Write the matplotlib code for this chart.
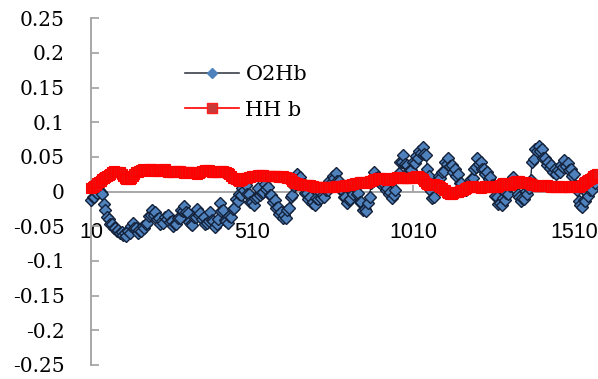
import numpy as np
import matplotlib
matplotlib.use("Agg")
import matplotlib.pyplot as plt
from matplotlib.lines import Line2D

# Sample index (every 5 samples) and the two haemoglobin signals
sample_idx = np.arange(10, 1590, 5)

o2hb = [
    -0.012, -0.008, -0.007, -0.001, -0.002, 0.003, 0.000, -0.004, -0.018, -0.026,
    -0.036, -0.039, -0.047, -0.046, -0.052, -0.052, -0.057, -0.055, -0.060, -0.058,
    -0.062, -0.060, -0.064, -0.057, -0.060, -0.049, -0.045, -0.052, -0.053, -0.060,
    -0.056, -0.057, -0.050, -0.052, -0.046, -0.045, -0.035, -0.034, -0.027, -0.033,
    -0.030, -0.039, -0.038, -0.046, -0.043, -0.045, -0.037, -0.039, -0.033, -0.044,
    -0.043, -0.050, -0.046, -0.047, -0.038, -0.038, -0.027, -0.028, -0.020, -0.030,
    -0.031, -0.044, -0.046, -0.048, -0.037, -0.036, -0.025, -0.033, -0.031, -0.040,
    -0.037, -0.047, -0.045, -0.043, -0.029, -0.041, -0.042, -0.051, -0.047, -0.039,
    -0.017, -0.028, -0.027, -0.041, -0.042, -0.045, -0.035, -0.036, -0.025, -0.024,
    -0.011, -0.013, -0.003, -0.005, 0.005, 0.002, 0.009, -0.003, -0.003, -0.015,
    -0.015, -0.019, -0.009, -0.008, 0.005, -0.005, -0.002, -0.001, 0.011, 0.004,
    0.007, -0.005, -0.005, -0.015, -0.012, -0.023, -0.022, -0.032, -0.029, -0.038,
    -0.034, -0.038, -0.027, -0.023, -0.007, -0.005, 0.008, 0.011, 0.025, 0.018,
    0.021, 0.010, 0.011, -0.002, -0.002, -0.011, -0.007, -0.017, -0.015, -0.019,
    -0.009, -0.011, -0.001, -0.009, -0.005, -0.007, 0.003, 0.003, 0.015, 0.013,
    0.023, 0.019, 0.027, 0.015, 0.015, 0.003, 0.003, -0.008, -0.007, -0.016,
    -0.012, -0.011, 0.001, -0.003, 0.005, -0.004, -0.002, -0.015, -0.015, -0.026,
    -0.025, -0.028, -0.017, -0.008, 0.013, 0.016, 0.029, 0.019, 0.021, 0.014,
    0.018, 0.009, 0.011, 0.002, 0.005, -0.004, -0.001, -0.009, -0.005, 0.003,
    0.023, 0.027, 0.043, 0.043, 0.053, 0.040, 0.038, 0.028, 0.031, 0.031,
    0.043, 0.041, 0.051, 0.049, 0.058, 0.056, 0.064, 0.054, 0.053, 0.033,
    0.023, 0.001, -0.009, -0.007, 0.008, 0.010, 0.023, 0.020, 0.028, 0.030,
    0.043, 0.040, 0.048, 0.037, 0.038, 0.029, 0.033, 0.023, 0.025, 0.013,
    0.013, 0.002, 0.005, 0.002, 0.011, 0.009, 0.018, 0.019, 0.033, 0.035,
    0.048, 0.040, 0.043, 0.032, 0.033, 0.025, 0.028, 0.018, 0.021, 0.009,
    0.008, -0.006, -0.007, -0.018, -0.017, -0.019, -0.009, -0.012, -0.002, -0.003,
    0.008, 0.009, 0.021, 0.011, 0.013, -0.003, -0.007, -0.014, -0.009, -0.010,
    0.001, -0.003, 0.005, 0.017, 0.043, 0.047, 0.061, 0.059, 0.066, 0.058,
    0.061, 0.049, 0.048, 0.039, 0.043, 0.034, 0.038, 0.029, 0.033, 0.026,
    0.031, 0.028, 0.038, 0.036, 0.045, 0.037, 0.041, 0.031, 0.033, 0.023,
    0.025, 0.008, 0.003, -0.014, -0.019, -0.022, -0.012, -0.013, -0.002, -0.006,
    0.003, 0.003, 0.015, 0.013, 0.023, 0.021,
]

hhb = [
    0.005, 0.006, 0.008, 0.010, 0.012, 0.014, 0.015, 0.018, 0.020, 0.021,
    0.022, 0.024, 0.026, 0.028, 0.030, 0.029, 0.028, 0.028, 0.028, 0.025,
    0.022, 0.020, 0.018, 0.018, 0.018, 0.020, 0.022, 0.025, 0.028, 0.029,
    0.030, 0.031, 0.032, 0.031, 0.030, 0.031, 0.032, 0.032, 0.032, 0.031,
    0.030, 0.030, 0.030, 0.031, 0.031, 0.032, 0.032, 0.030, 0.029, 0.028,
    0.028, 0.029, 0.030, 0.030, 0.030, 0.030, 0.029, 0.028, 0.027, 0.027,
    0.028, 0.029, 0.029, 0.028, 0.027, 0.027, 0.026, 0.027, 0.029, 0.030,
    0.030, 0.031, 0.031, 0.031, 0.030, 0.029, 0.028, 0.028, 0.028, 0.029,
    0.030, 0.030, 0.030, 0.029, 0.028, 0.027, 0.026, 0.023, 0.020, 0.019,
    0.018, 0.017, 0.016, 0.017, 0.018, 0.019, 0.020, 0.020, 0.021, 0.021,
    0.022, 0.022, 0.023, 0.023, 0.024, 0.024, 0.024, 0.024, 0.023, 0.023,
    0.022, 0.022, 0.022, 0.022, 0.022, 0.022, 0.022, 0.021, 0.021, 0.022,
    0.021, 0.021, 0.020, 0.019, 0.018, 0.016, 0.014, 0.013, 0.012, 0.011,
    0.011, 0.010, 0.010, 0.010, 0.010, 0.009, 0.009, 0.008, 0.008, 0.007,
    0.007, 0.006, 0.006, 0.006, 0.006, 0.007, 0.007, 0.006, 0.006, 0.006,
    0.007, 0.007, 0.008, 0.008, 0.008, 0.008, 0.008, 0.008, 0.009, 0.009,
    0.010, 0.010, 0.011, 0.011, 0.012, 0.013, 0.013, 0.014, 0.014, 0.014,
    0.013, 0.013, 0.014, 0.015, 0.016, 0.017, 0.018, 0.018, 0.019, 0.019,
    0.019, 0.019, 0.018, 0.018, 0.017, 0.017, 0.018, 0.019, 0.020, 0.020,
    0.021, 0.021, 0.020, 0.020, 0.019, 0.019, 0.020, 0.020, 0.020, 0.020,
    0.021, 0.021, 0.022, 0.022, 0.021, 0.020, 0.018, 0.015, 0.012, 0.011,
    0.010, 0.010, 0.011, 0.011, 0.010, 0.009, 0.008, 0.007, 0.005, 0.003,
    0.002, 0.000, -0.002, -0.003, -0.003, -0.002, -0.001, 0.000, 0.000, 0.001,
    0.002, 0.003, 0.004, 0.005, 0.006, 0.007, 0.008, 0.008, 0.007, 0.007,
    0.006, 0.006, 0.005, 0.006, 0.007, 0.008, 0.008, 0.007, 0.006, 0.006,
    0.006, 0.006, 0.007, 0.008, 0.010, 0.011, 0.012, 0.012, 0.011, 0.011,
    0.010, 0.011, 0.012, 0.014, 0.016, 0.016, 0.015, 0.014, 0.013, 0.013,
    0.014, 0.013, 0.012, 0.011, 0.010, 0.010, 0.009, 0.008, 0.008, 0.008,
    0.008, 0.008, 0.009, 0.009, 0.008, 0.008, 0.007, 0.007, 0.006, 0.007,
    0.008, 0.008, 0.007, 0.007, 0.006, 0.006, 0.007, 0.007, 0.008, 0.008,
    0.008, 0.007, 0.006, 0.007, 0.008, 0.010, 0.012, 0.014, 0.016, 0.017,
    0.018, 0.020, 0.022, 0.024, 0.025, 0.026,
]

y_ticks = [0.25, 0.2, 0.15, 0.1, 0.05, 0, -0.05, -0.1, -0.15, -0.2, -0.25]
y_tick_labels = ["0.25", "0.2", "0.15", "0.1", "0.05", "0",
                 "-0.05", "-0.1", "-0.15", "-0.2", "-0.25"]
x_ticks = [10, 510, 1010, 1510]
x_tick_labels = ["10", "510", "1010", "1510"]
series_names = ["O2Hb", "HH b"]

W, H = 598, 379
fig = plt.figure(figsize=(W / 100, H / 100), dpi=100)
left_px, top_px, bottom_px = 91, 18.3, 365.0
ax = fig.add_axes([left_px / W, (H - bottom_px) / H,
                   (W - left_px) / W, (bottom_px - top_px) / H])

px_per_unit = 0.322
ax.set_xlim(10, 10 + (W - left_px) / px_per_unit)
ax.set_ylim(-0.25, 0.25)

axis_grey = "#a0a0a0"
for side in ("top", "right"):
    ax.spines[side].set_visible(False)
ax.spines["left"].set_color(axis_grey)
ax.spines["left"].set_linewidth(1.3)
ax.spines["bottom"].set_position(("data", 0))
ax.spines["bottom"].set_color(axis_grey)
ax.spines["bottom"].set_linewidth(1.3)

blue_face, blue_edge, blue_line = "#4f81bd", "#13213a", "#1d2b45"
red_face, red_edge = "#ee1010", "#ff0000"

ax.plot(sample_idx, o2hb, color=blue_line, lw=1.0, marker="D", ms=5.8,
        mfc=blue_face, mec=blue_edge, mew=1.0, clip_on=False, zorder=3)
ax.plot(sample_idx, hhb, color="#ff0000", lw=1.0, marker="s", ms=7.0,
        mfc=red_face, mec=red_edge, mew=0.8, clip_on=False, zorder=4)

ax.set_yticks(y_ticks)
ax.set_yticklabels(y_tick_labels, fontfamily="DejaVu Serif", fontsize=14.5)
ax.tick_params(axis="y", direction="in", length=6, width=1.2,
               color=axis_grey, pad=19)

# Category labels hang well below the zero line
ax.set_xticks(x_ticks)
ax.set_xticklabels(x_tick_labels, fontfamily="Liberation Sans", fontsize=15.5)
ax.tick_params(axis="x", direction="in", length=5, width=1.2,
               color=axis_grey, pad=22)
for lab in ax.get_xticklabels():
    lab.set_zorder(6)

handles = [
    Line2D([], [], color="#3a3f4a", lw=1.2, marker="D", ms=5.5,
           mfc=blue_face, mec=blue_face),
    Line2D([], [], color="#ff0000", lw=1.2, marker="s", ms=6.5,
           mfc="#c83a3a", mec="#ff2020", mew=1.0),
]
ax.legend(handles, series_names, loc="upper left",
          bbox_to_anchor=(185 / W, (H - 65.5) / H),
          bbox_transform=fig.transFigure, frameon=False,
          prop={"family": "DejaVu Serif", "size": 15},
          handlelength=2.6, handletextpad=0.3, labelspacing=0.78,
          borderpad=0, borderaxespad=0)

fig.savefig("out.png", dpi=100)
